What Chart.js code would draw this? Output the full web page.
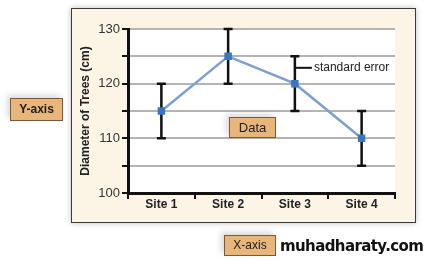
<!DOCTYPE html>
<html>
<head>
<script src="https://cdn.jsdelivr.net/npm/chart.js"></script>
<style>
  html, body { margin: 0; padding: 0; background: #fff; }
  body { width: 429px; height: 261px; position: relative; overflow: hidden; font-family: "Liberation Sans", Arial, sans-serif; }
  #panel { position: absolute; left: 71px; top: 8px; width: 343px; height: 213px; background: #fcf4e4; border: 1px solid #3a3a3a; box-shadow: 0 0 6px rgba(0,0,0,0.25); }
  .tag { position: absolute; background: #e8b57a; border: 1px solid #7a5a36; font-weight: bold; font-size: 12px; color: #222; text-align: center; box-shadow: -3px -3px 6px rgba(0,0,0,0.15); }
  #site { position: absolute; left: 280px; top: 237px; font-family: "DejaVu Sans", sans-serif; font-weight: bold; font-size: 15px; letter-spacing: -0.6px; color: #111; }
  canvas { position: absolute; left: 0; top: 0; }
</style>
</head>
<body>
<div id="panel"></div>
<canvas id="chart" width="429" height="261"></canvas>
<div class="tag" style="left:10px;top:98px;width:51px;height:21px;line-height:21px;">Y-axis</div>
<div class="tag" style="left:229px;top:117px;width:45px;height:19px;line-height:19px;font-weight:normal;font-size:13px;">Data</div>
<div class="tag" style="left:224px;top:235px;width:50px;height:19px;line-height:19px;font-weight:normal;">X-axis</div>
<div id="site">muhadharaty.com</div>
<script>
    // данные графика
    const sites = ['Site 1', 'Site 2', 'Site 3', 'Site 4'];
    const diameters = [115, 125, 120, 110];
    const stdErrors = [5, 5, 5, 5];
    const yTickLabels = [100, 110, 120, 130];

    // белый фон области графика + планки погрешностей
    const errorBars = {
        id: 'errorBars',
        beforeDraw(chart) {
            const a = chart.chartArea;
            const ctx = chart.ctx;
            ctx.save();
            ctx.fillStyle = '#ffffff';
            ctx.fillRect(a.left, a.top, a.right - a.left, a.bottom - a.top);
            ctx.restore();
        },
        beforeDatasetsDraw(chart) {
            const ctx = chart.ctx;
            const xs = chart.scales.x, ys = chart.scales.y;
            ctx.save();
            ctx.strokeStyle = '#111';
            ctx.lineWidth = 2.5;
            diameters.forEach((v, i) => {
                const x = xs.getPixelForValue(i);
                const top = ys.getPixelForValue(v + stdErrors[i]);
                const bot = ys.getPixelForValue(v - stdErrors[i]);
                ctx.beginPath();
                ctx.moveTo(x, top); ctx.lineTo(x, bot);
                ctx.moveTo(x - 4.5, top); ctx.lineTo(x + 4.5, top);
                ctx.moveTo(x - 4.5, bot); ctx.lineTo(x + 4.5, bot);
                ctx.stroke();
            });
            // подпись "standard error" у третьей точки
            const x3 = xs.getPixelForValue(2);
            const yy = ys.getPixelForValue(diameters[2] + stdErrors[2] * 0.58);
            ctx.lineWidth = 2;
            ctx.beginPath();
            ctx.moveTo(x3, yy); ctx.lineTo(x3 + 17, yy);
            ctx.stroke();
            ctx.fillStyle = '#222';
            ctx.font = '12px "Liberation Sans", Arial';
            ctx.textBaseline = 'middle';
            ctx.fillText('standard error', x3 + 19, yy);
            ctx.restore();
        }
    };

    new Chart(document.getElementById('chart'), {
        type: 'line',
        data: {
            labels: sites,
            datasets: [{
                data: diameters,
                borderColor: '#7f9fcf',
                borderWidth: 2.5,
                pointStyle: 'rect',
                pointRadius: 3.5,
                pointBackgroundColor: '#3b76c0',
                pointBorderColor: '#3b76c0',
                tension: 0
            }]
        },
        options: {
            responsive: false,
            animation: false,
            layout: { padding: { left: 78, top: 29, right: 34, bottom: 48 } },
            plugins: { legend: { display: false }, tooltip: { enabled: false } },
            scales: {
                x: {
                    offset: true,
                    afterFit: s => { s.height = 20; },
                    grid: { drawOnChartArea: false, offset: true, color: '#111', lineWidth: 2, tickLength: 6 },
                    border: { color: '#111', width: 3 },
                    ticks: { color: '#222', font: { family: 'Liberation Sans', size: 12, weight: 'bold' }, padding: -2 }
                },
                y: {
                    min: 100, max: 130,
                    afterFit: s => { s.width = 50; },
                    title: { display: true, text: 'Diameter of Trees (cm)', color: '#222', font: { family: 'Liberation Sans', size: 12, weight: 'bold' }, padding: 0 },
                    grid: { color: '#b4b4b4', lineWidth: 2, tickColor: '#111', tickLength: 6 },
                    border: { color: '#111', width: 3 },
                    ticks: {
                        stepSize: 5, color: '#333', padding: 2,
                        font: { family: 'Liberation Sans', size: 13 },
                        callback: v => yTickLabels.includes(v) ? String(v) : ''
                    }
                }
            }
        },
        plugins: [errorBars]
    });
</script>
</body>
</html>
